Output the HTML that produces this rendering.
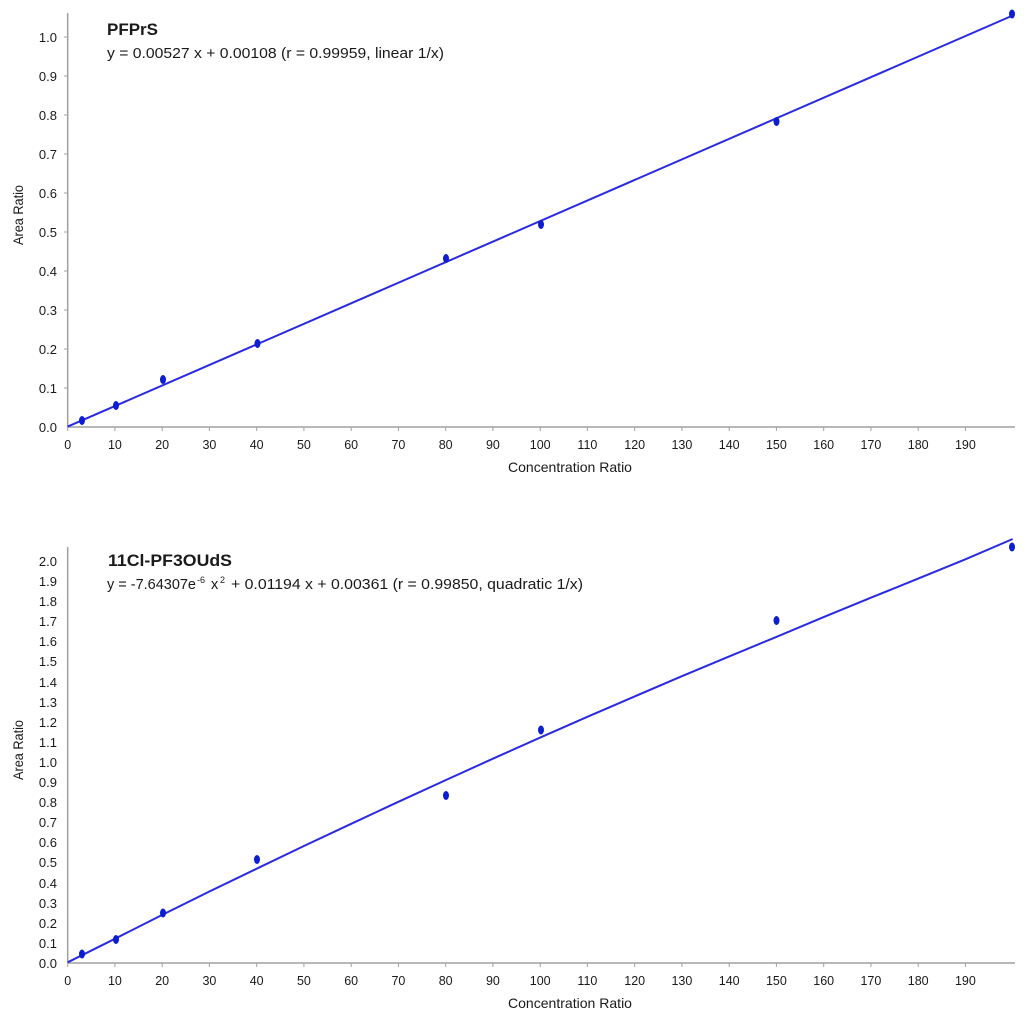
<!DOCTYPE html>
<html><head><meta charset="utf-8"><style>
html,body{margin:0;padding:0;background:#fff;}
svg{display:block;font-family:"Liberation Sans",sans-serif;}
.t{font-size:12.5px;fill:#1a1a1a;}
.ty{font-size:13px;fill:#1a1a1a;}
.ax{stroke:#a0a0a0;stroke-width:1.5;fill:none;}
.tk{stroke:#a0a0a0;stroke-width:1;}
.ln{stroke:#2a2ae2;stroke-width:2;fill:none;}
.mk{fill:#0c1ed0;}
</style></head><body>
<svg width="1024" height="1024" viewBox="0 0 1024 1024">
<!-- TOP CHART -->
<g>
<line class="ax" x1="67.7" y1="13" x2="67.7" y2="427"/>
<line class="ax" x1="67.7" y1="427" x2="1015" y2="427"/>
<g class="tk">
<line x1="67.7" y1="427" x2="67.7" y2="431"/><line x1="114.9" y1="427" x2="114.9" y2="431"/><line x1="162.2" y1="427" x2="162.2" y2="431"/><line x1="209.4" y1="427" x2="209.4" y2="431"/><line x1="256.7" y1="427" x2="256.7" y2="431"/><line x1="303.9" y1="427" x2="303.9" y2="431"/><line x1="351.2" y1="427" x2="351.2" y2="431"/><line x1="398.4" y1="427" x2="398.4" y2="431"/><line x1="445.7" y1="427" x2="445.7" y2="431"/><line x1="492.9" y1="427" x2="492.9" y2="431"/><line x1="540.2" y1="427" x2="540.2" y2="431"/><line x1="587.4" y1="427" x2="587.4" y2="431"/><line x1="634.7" y1="427" x2="634.7" y2="431"/><line x1="681.9" y1="427" x2="681.9" y2="431"/><line x1="729.2" y1="427" x2="729.2" y2="431"/><line x1="776.4" y1="427" x2="776.4" y2="431"/><line x1="823.7" y1="427" x2="823.7" y2="431"/><line x1="870.9" y1="427" x2="870.9" y2="431"/><line x1="918.2" y1="427" x2="918.2" y2="431"/><line x1="965.4" y1="427" x2="965.4" y2="431"/>
<line x1="64" y1="388" x2="67.7" y2="388"/><line x1="64" y1="349" x2="67.7" y2="349"/><line x1="64" y1="310" x2="67.7" y2="310"/><line x1="64" y1="271" x2="67.7" y2="271"/><line x1="64" y1="232" x2="67.7" y2="232"/><line x1="64" y1="193" x2="67.7" y2="193"/><line x1="64" y1="154" x2="67.7" y2="154"/><line x1="64" y1="115" x2="67.7" y2="115"/><line x1="64" y1="76" x2="67.7" y2="76"/><line x1="64" y1="37" x2="67.7" y2="37"/>
</g>
<g class="ty" text-anchor="end">
<text x="57" y="432">0.0</text><text x="57" y="393">0.1</text><text x="57" y="354">0.2</text><text x="57" y="315">0.3</text><text x="57" y="276">0.4</text><text x="57" y="237">0.5</text><text x="57" y="198">0.6</text><text x="57" y="159">0.7</text><text x="57" y="120">0.8</text><text x="57" y="81">0.9</text><text x="57" y="42">1.0</text>
</g>
<g class="t" text-anchor="middle">
<text x="67.7" y="449">0</text><text x="114.9" y="449">10</text><text x="162.2" y="449">20</text><text x="209.4" y="449">30</text><text x="256.7" y="449">40</text><text x="303.9" y="449">50</text><text x="351.2" y="449">60</text><text x="398.4" y="449">70</text><text x="445.7" y="449">80</text><text x="492.9" y="449">90</text><text x="540.2" y="449">100</text><text x="587.4" y="449">110</text><text x="634.7" y="449">120</text><text x="681.9" y="449">130</text><text x="729.2" y="449">140</text><text x="776.4" y="449">150</text><text x="823.7" y="449">160</text><text x="870.9" y="449">170</text><text x="918.2" y="449">180</text><text x="965.4" y="449">190</text>
</g>
<text x="570" y="472" text-anchor="middle" style="font-size:14px;fill:#1a1a1a" textLength="124" lengthAdjust="spacingAndGlyphs">Concentration Ratio</text>
<text transform="translate(23,215) rotate(-90)" text-anchor="middle" style="font-size:14px;fill:#1a1a1a" textLength="60" lengthAdjust="spacingAndGlyphs">Area Ratio</text>
<text x="107" y="35" style="font-size:17px;font-weight:bold;fill:#1a1a1a" textLength="51" lengthAdjust="spacingAndGlyphs">PFPrS</text>
<text x="107" y="58" style="font-size:14.5px;fill:#1a1a1a" textLength="337" lengthAdjust="spacingAndGlyphs">y = 0.00527 x + 0.00108 (r = 0.99959, linear 1/x)</text>
<line class="ln" x1="67.7" y1="426.6" x2="1012.7" y2="15.5"/>
<g class="mk">
<ellipse cx="82" cy="420.5" rx="3" ry="4.5"/><ellipse cx="116" cy="405.5" rx="3" ry="4.5"/><ellipse cx="163" cy="379.5" rx="3" ry="4.5"/><ellipse cx="257.5" cy="343.5" rx="3" ry="4.5"/><ellipse cx="446" cy="258.5" rx="3" ry="4.5"/><ellipse cx="541" cy="224.5" rx="3" ry="4.5"/><ellipse cx="776.5" cy="121.5" rx="3" ry="4.5"/><ellipse cx="1012" cy="14" rx="3" ry="4.5"/>
</g>
</g>

<!-- BOTTOM CHART -->
<g>
<line class="ax" x1="67.7" y1="547" x2="67.7" y2="963"/>
<line class="ax" x1="67.7" y1="963" x2="1015" y2="963"/>
<g class="tk">
<line x1="67.7" y1="963" x2="67.7" y2="967"/><line x1="114.9" y1="963" x2="114.9" y2="967"/><line x1="162.2" y1="963" x2="162.2" y2="967"/><line x1="209.4" y1="963" x2="209.4" y2="967"/><line x1="256.7" y1="963" x2="256.7" y2="967"/><line x1="303.9" y1="963" x2="303.9" y2="967"/><line x1="351.2" y1="963" x2="351.2" y2="967"/><line x1="398.4" y1="963" x2="398.4" y2="967"/><line x1="445.7" y1="963" x2="445.7" y2="967"/><line x1="492.9" y1="963" x2="492.9" y2="967"/><line x1="540.2" y1="963" x2="540.2" y2="967"/><line x1="587.4" y1="963" x2="587.4" y2="967"/><line x1="634.7" y1="963" x2="634.7" y2="967"/><line x1="681.9" y1="963" x2="681.9" y2="967"/><line x1="729.2" y1="963" x2="729.2" y2="967"/><line x1="776.4" y1="963" x2="776.4" y2="967"/><line x1="823.7" y1="963" x2="823.7" y2="967"/><line x1="870.9" y1="963" x2="870.9" y2="967"/><line x1="918.2" y1="963" x2="918.2" y2="967"/><line x1="965.4" y1="963" x2="965.4" y2="967"/>
</g>
<g class="ty" text-anchor="end">
<text x="57" y="968">0.0</text><text x="57" y="948">0.1</text><text x="57" y="928">0.2</text><text x="57" y="908">0.3</text><text x="57" y="888">0.4</text><text x="57" y="867">0.5</text><text x="57" y="847">0.6</text><text x="57" y="827">0.7</text><text x="57" y="807">0.8</text><text x="57" y="787">0.9</text><text x="57" y="767">1.0</text><text x="57" y="747">1.1</text><text x="57" y="727">1.2</text><text x="57" y="707">1.3</text><text x="57" y="687">1.4</text><text x="57" y="666">1.5</text><text x="57" y="646">1.6</text><text x="57" y="626">1.7</text><text x="57" y="606">1.8</text><text x="57" y="586">1.9</text><text x="57" y="566">2.0</text>
</g>
<g class="t" text-anchor="middle">
<text x="67.7" y="985">0</text><text x="114.9" y="985">10</text><text x="162.2" y="985">20</text><text x="209.4" y="985">30</text><text x="256.7" y="985">40</text><text x="303.9" y="985">50</text><text x="351.2" y="985">60</text><text x="398.4" y="985">70</text><text x="445.7" y="985">80</text><text x="492.9" y="985">90</text><text x="540.2" y="985">100</text><text x="587.4" y="985">110</text><text x="634.7" y="985">120</text><text x="681.9" y="985">130</text><text x="729.2" y="985">140</text><text x="776.4" y="985">150</text><text x="823.7" y="985">160</text><text x="870.9" y="985">170</text><text x="918.2" y="985">180</text><text x="965.4" y="985">190</text>
</g>
<text x="570" y="1008" text-anchor="middle" style="font-size:14px;fill:#1a1a1a" textLength="124" lengthAdjust="spacingAndGlyphs">Concentration Ratio</text>
<text transform="translate(23,750) rotate(-90)" text-anchor="middle" style="font-size:14px;fill:#1a1a1a" textLength="60" lengthAdjust="spacingAndGlyphs">Area Ratio</text>
<text x="108" y="566" style="font-size:17px;font-weight:bold;fill:#1a1a1a" textLength="124" lengthAdjust="spacingAndGlyphs">11Cl-PF3OUdS</text>
<g style="font-size:14.5px;fill:#1a1a1a">
<text x="107" y="589" textLength="89" lengthAdjust="spacingAndGlyphs">y = -7.64307e</text>
<text x="197" y="583" style="font-size:9px">-6</text>
<text x="211" y="589">x</text>
<text x="220" y="583" style="font-size:9px">2</text>
<text x="231" y="589" textLength="352" lengthAdjust="spacingAndGlyphs">+ 0.01194 x + 0.00361 (r = 0.99850, quadratic 1/x)</text>
</g>
<polyline class="ln" points="67.7,962.3 114.9,938.8 162.2,914.9 209.4,891.5 256.7,868.7 303.9,846.0 351.2,823.8 398.4,801.8 445.7,780.1 492.9,758.7 540.2,737.6 587.4,716.8 634.7,696.4 681.9,676.2 729.2,656.4 776.4,636.9 823.7,617.1 870.9,597.7 918.2,578.6 965.4,559.3 1012.7,539"/>
<g class="mk">
<ellipse cx="82" cy="954" rx="3" ry="4.5"/><ellipse cx="116" cy="939.5" rx="3" ry="4.5"/><ellipse cx="163" cy="913" rx="3" ry="4.5"/><ellipse cx="257" cy="859.5" rx="3" ry="4.5"/><ellipse cx="446" cy="795.5" rx="3" ry="4.5"/><ellipse cx="541" cy="730" rx="3" ry="4.5"/><ellipse cx="776.5" cy="620.5" rx="3" ry="4.5"/><ellipse cx="1012" cy="547" rx="3" ry="4.5"/>
</g>
</g>
</svg>
</body></html>
